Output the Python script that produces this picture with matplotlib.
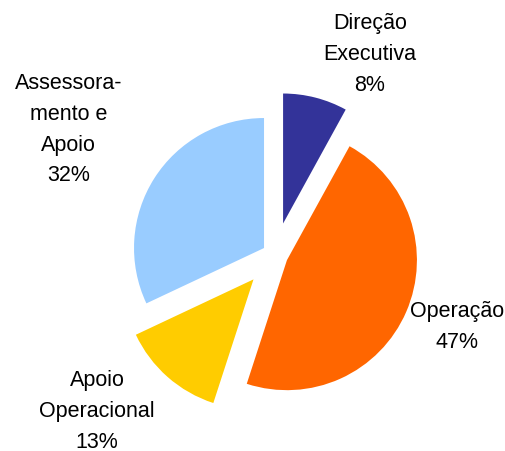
import matplotlib
matplotlib.use('Agg')
import matplotlib.pyplot as plt

# slice data, clockwise from 12 o'clock
names = ['Direção\nExecutiva', 'Operação', 'Apoio\nOperacional', 'Assessora-\nmento e\nApoio']
values = [8, 47, 13, 32]
colors = ['#333399', '#FF6600', '#FFCC00', '#99CCFF']
explode = [0.25, 0.1, 0.25, 0.1]

# label anchor points (data units, pie radius = 1)
label_pos = [(0.73, 1.54), (1.40, -0.555), (-1.37, -1.205), (-1.59, 0.965)]

plt.rcParams['font.family'] = ['Liberation Sans', 'DejaVu Sans']

fig = plt.figure(figsize=(5.06, 4.51), dpi=100)
ax = fig.add_axes([0, 0, 1, 1])

ax.pie(values, colors=colors, explode=explode, startangle=90,
       counterclock=False, radius=1, center=(0, 0),
       wedgeprops=dict(linewidth=0))

for name, v, (x, y) in zip(names, values, label_pos):
    ax.text(x, y, f'{name}\n{v}%', ha='center', va='center',
            multialignment='center', fontsize=15.5, linespacing=1.62)

ax.set_xlim(-275 / 130, (506 - 275) / 130)
ax.set_ylim((255 - 451) / 130, 255 / 130)
ax.set_aspect('auto')
ax.axis('off')

fig.savefig('out.png', dpi=100)
